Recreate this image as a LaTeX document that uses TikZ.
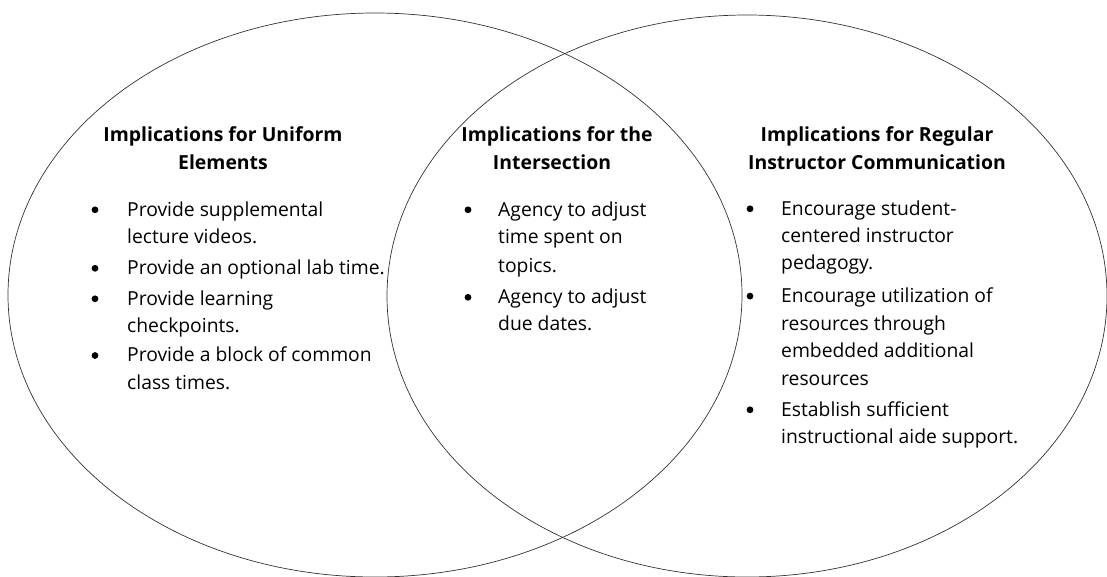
\documentclass[tikz,border=0pt]{standalone}
\usepackage{fontspec}
\setmainfont{Open Sans}
\usetikzlibrary{shapes.geometric}
\begin{document}
\begin{tikzpicture}[x=1pt,y=-1pt,
  set/.style={ellipse, draw=black!80, line width=0.7pt, inner sep=0pt},
  heading/.style={font=\fontsize{19.4}{28}\selectfont\bfseries, anchor=base, inner sep=0pt},
  entry/.style={font=\fontsize{19.3}{29}\selectfont, anchor=base west, inner sep=0pt},
  dot/.style={circle, fill=black, inner sep=0pt, minimum size=6.8pt}]
\useasboundingbox (0,0) rectangle (1107,576);
% the two overlapping sets
\begin{scope}
  \clip (0,0) rectangle (1107,576);
  \node[set, minimum width=734pt, minimum height=564pt] (uniform) at (375,295) {};
  \node[set, minimum width=720pt, minimum height=562pt] (regular) at (747,296) {};
\end{scope}
% headings
\node[heading] (hu1) at (223,141.5) {Implications for Uniform};
\node[heading] (hu2) at (223,169) {Elements};
\node[heading] (hi1) at (557,141.5) {Implications for the};
\node[heading] (hi2) at (552,169) {Intersection};
\node[heading] (hr1) at (877,141.5) {Implications for Regular};
\node[heading] (hr2) at (877,169) {Instructor Communication};
% left set items
\node[dot] (ub1) at (95,209.8) {};
\node[entry] (u1a) at (127,216) {Provide supplemental};
\node[entry] (u1b) at (127,243.5) {lecture videos.};
\node[dot] (ub2) at (95,268.3) {};
\node[entry] (u2a) at (127,274.5) {Provide an optional lab time.};
\node[dot] (ub3) at (95,298.8) {};
\node[entry] (u3a) at (127,305) {Provide learning};
\node[entry] (u3b) at (127,332.3) {checkpoints.};
\node[dot] (ub4) at (95,355.5) {};
\node[entry] (u4a) at (127,361.7) {Provide a block of common};
\node[entry] (u4b) at (127,389) {class times.};
% intersection items
\node[dot] (ib1) at (468,209.8) {};
\node[entry] (i1a) at (498,216) {Agency to adjust};
\node[entry] (i1b) at (498,243.5) {time spent on};
\node[entry] (i1c) at (498,272) {topics.};
\node[dot] (ib2) at (468,297.3) {};
\node[entry] (i2a) at (498,303.5) {Agency to adjust};
\node[entry] (i2b) at (498,330.5) {due dates.};
% right set items
\node[dot] (rb1) at (750,208.8) {};
\node[entry] (r1a) at (781,215) {Encourage student-};
\node[entry] (r1b) at (781,242) {centered instructor};
\node[entry] (r1c) at (781,269.5) {pedagogy.};
\node[dot] (rb2) at (750,296.1) {};
\node[entry] (r2a) at (781,302.3) {Encourage utilization of};
\node[entry] (r2b) at (781,330) {resources through};
\node[entry] (r2c) at (781,357.7) {embedded additional};
\node[entry] (r2d) at (781,385.5) {resources};
\node[dot] (rb3) at (750,409.8) {};
\node[entry] (r3a) at (781,416) {Establish sufficient};
\node[entry] (r3b) at (781,443.3) {instructional aide support.};
\end{tikzpicture}
\end{document}
